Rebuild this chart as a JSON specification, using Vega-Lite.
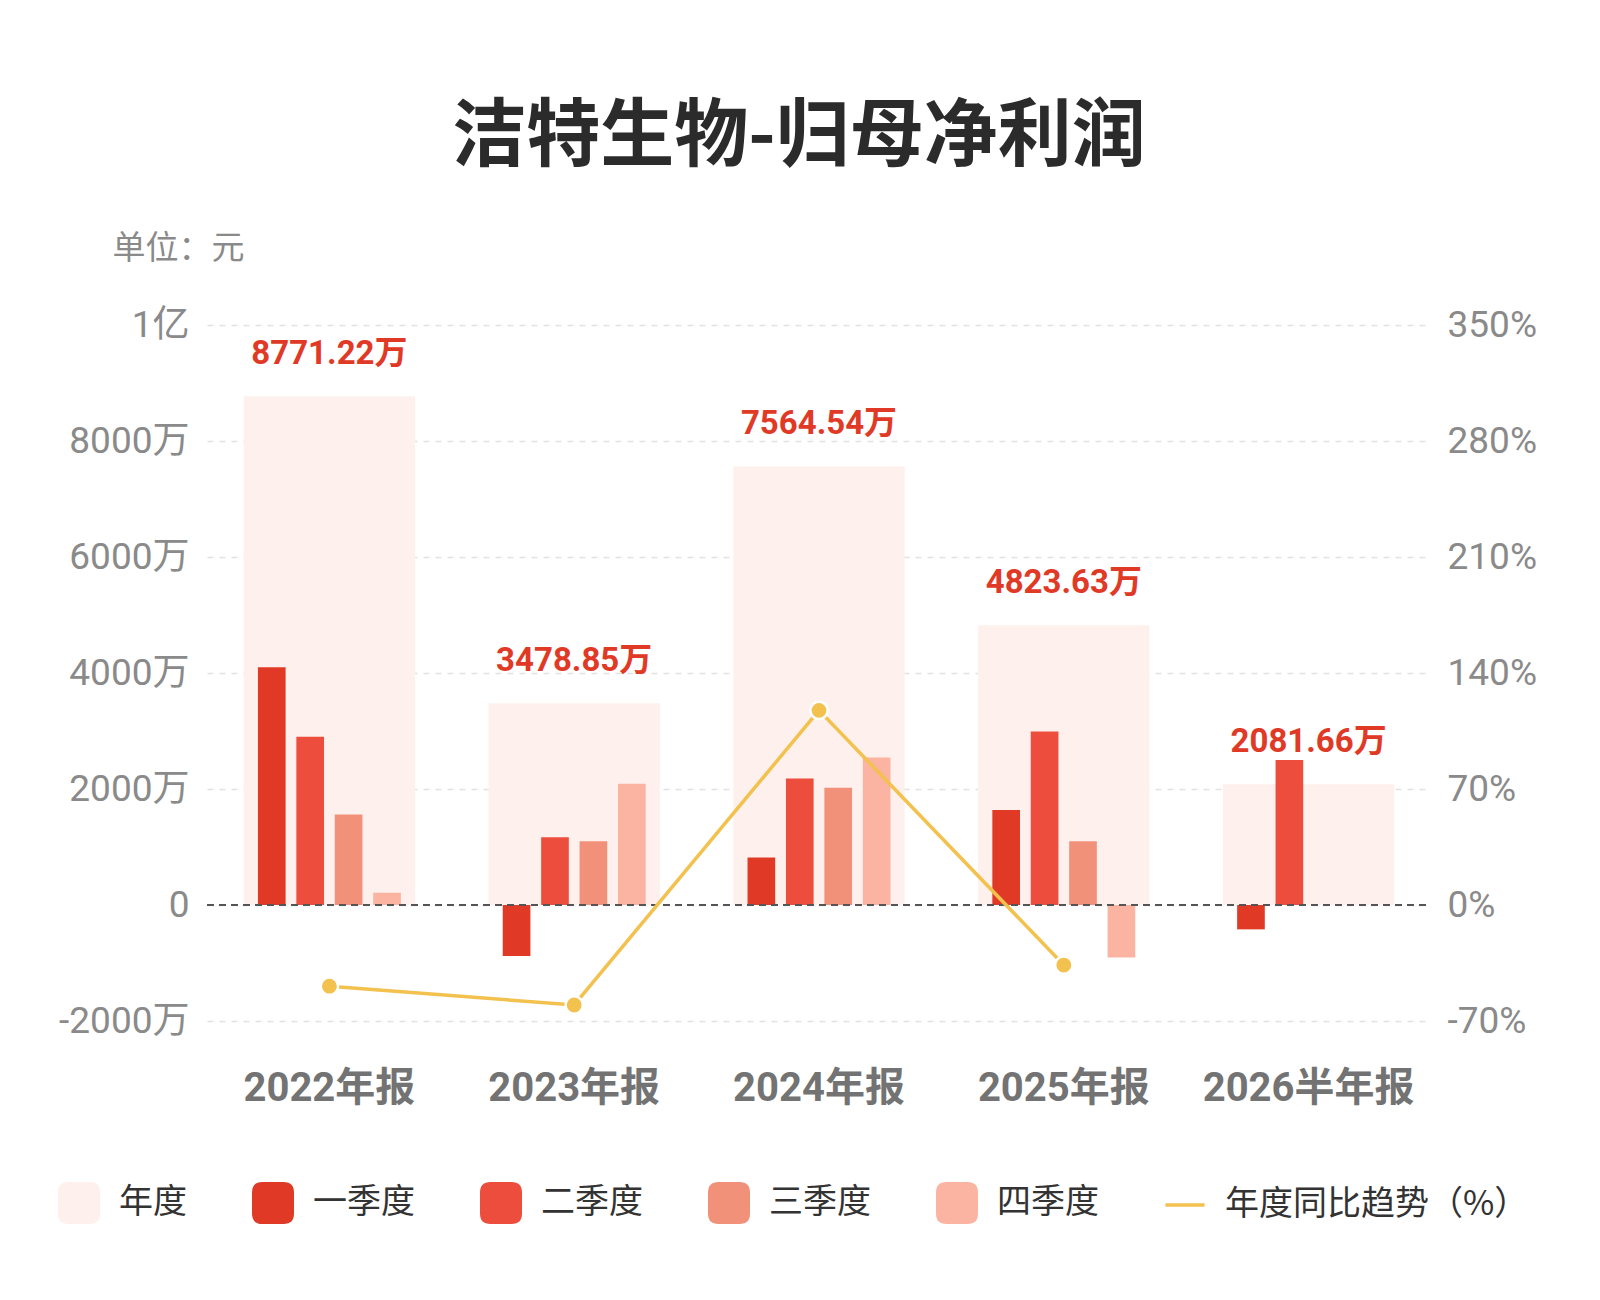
{
  "$schema": "https://vega.github.io/schema/vega-lite/v6.json",
  "width": 1224,
  "height": 696,
  "autosize": {"type": "none"},
  "padding": {"left": 207, "top": 325, "right": 169, "bottom": 279},
  "background": "white",
  "title": {
    "text": "洁特生物-归母净利润",
    "anchor": "middle",
    "dx": -20,
    "offset": 56,
    "font": "'Noto Sans CJK SC', sans-serif",
    "fontSize": 74,
    "fontWeight": "bold",
    "color": "#2b2b2b"
  },
  "datasets": {
    "annual": [
      {"period": "2022年报", "series": "年度", "value": 8771.22},
      {"period": "2023年报", "series": "年度", "value": 3478.85},
      {"period": "2024年报", "series": "年度", "value": 7564.54},
      {"period": "2025年报", "series": "年度", "value": 4823.63},
      {"period": "2026半年报", "series": "年度", "value": 2081.66}
    ],
    "quarters": [
      {"period": "2022年报", "series": "一季度", "value": 4100},
      {"period": "2022年报", "series": "二季度", "value": 2900},
      {"period": "2022年报", "series": "三季度", "value": 1560},
      {"period": "2022年报", "series": "四季度", "value": 211.22},
      {"period": "2023年报", "series": "一季度", "value": -880},
      {"period": "2023年报", "series": "二季度", "value": 1170},
      {"period": "2023年报", "series": "三季度", "value": 1100},
      {"period": "2023年报", "series": "四季度", "value": 2088.85},
      {"period": "2024年报", "series": "一季度", "value": 820},
      {"period": "2024年报", "series": "二季度", "value": 2180},
      {"period": "2024年报", "series": "三季度", "value": 2020},
      {"period": "2024年报", "series": "四季度", "value": 2544.54},
      {"period": "2025年报", "series": "一季度", "value": 1640},
      {"period": "2025年报", "series": "二季度", "value": 2990},
      {"period": "2025年报", "series": "三季度", "value": 1100},
      {"period": "2025年报", "series": "四季度", "value": -906.37},
      {"period": "2026半年报", "series": "一季度", "value": -420},
      {"period": "2026半年报", "series": "二季度", "value": 2501.66}
    ],
    "yoy": [
      {"period": "2022年报", "pct": -49},
      {"period": "2023年报", "pct": -60.34},
      {"period": "2024年报", "pct": 117.45},
      {"period": "2025年报", "pct": -36.23}
    ]
  },
  "encoding": {
    "x": {
      "field": "period",
      "type": "nominal",
      "sort": ["2022年报", "2023年报", "2024年报", "2025年报", "2026半年报"],
      "scale": {"paddingInner": 0.3, "paddingOuter": 0.15},
      "axis": {
        "title": null,
        "domain": false,
        "ticks": false,
        "labelAngle": 0,
        "labelPadding": 47,
        "labelLimit": 500,
        "labelFont": "Roboto, 'Noto Sans CJK SC', sans-serif",
        "labelFontSize": 40,
        "labelFontWeight": "bold",
        "labelColor": "#737373"
      }
    }
  },
  "layer": [
    {
      "layer": [
        {
          "data": {"name": "annual"},
          "mark": {"type": "bar"},
          "encoding": {
            "y": {
              "field": "value",
              "type": "quantitative",
              "scale": {"domain": [-2000, 10000], "nice": false},
              "axis": {
                "title": "单位：元",
                "titleAngle": 0,
                "titleX": -95,
                "titleY": -77,
                "titleAlign": "left",
                "titleBaseline": "middle",
                "titleFont": "'Noto Sans CJK SC', sans-serif",
                "titleFontSize": 33,
                "titleFontWeight": "normal",
                "titleColor": "#8a8a8a",
                "values": [-2000, 0, 2000, 4000, 6000, 8000, 10000],
                "labelExpr": "datum.value == 10000 ? '1亿' : datum.value == 0 ? '0' : datum.value + '万'",
                "domain": false,
                "ticks": false,
                "labelPadding": 18,
                "labelFont": "Roboto, 'Noto Sans CJK SC', sans-serif",
                "labelFontSize": 37,
                "labelColor": "#8a8a8a",
                "gridColor": "#e2e2e2",
                "gridDash": [6, 6],
                "gridWidth": 1.5
              }
            },
            "color": {
              "field": "series",
              "type": "nominal",
              "scale": {
                "domain": ["年度", "一季度", "二季度", "三季度", "四季度", "年度同比趋势（%）"],
                "range": ["#FEF0EC", "#E03A26", "#EC4D3C", "#F2917A", "#FBB3A2", "#F2C14E"]
              },
              "legend": {
                "title": null,
                "orient": "none",
                "direction": "horizontal",
                "legendX": -149,
                "legendY": 857,
                "symbolSize": 1764,
                "symbolStrokeWidth": 0,
                "symbolOpacity": 1,
                "labelFont": "'Noto Sans CJK SC', sans-serif",
                "labelFontSize": 34,
                "labelColor": "#333333",
                "labelOffset": 19,
                "columnPadding": 65,
                "labelLimit": 400,
                "encode": {
                  "symbols": {
                    "update": {
                      "shape": {"signal": "datum.value === '年度同比趋势（%）' ? 'M-0.93,-0.08L0.93,-0.08L0.93,0.08L-0.93,0.08Z' : 'M-0.5,-1L0.5,-1Q1,-1 1,-0.5L1,0.5Q1,1 0.5,1L-0.5,1Q-1,1 -1,0.5L-1,-0.5Q-1,-1 -0.5,-1Z'"}
                    }
                  }
                }
              }
            }
          }
        },
        {
          "data": {"name": "quarters"},
          "mark": {"type": "bar"},
          "encoding": {
            "xOffset": {
              "field": "series",
              "type": "nominal",
              "scale": {"domain": ["一季度", "二季度", "三季度", "四季度"], "paddingInner": 0.28, "paddingOuter": 0.37}
            },
            "y": {"field": "value", "type": "quantitative"},
            "color": {"field": "series", "type": "nominal"}
          }
        },
        {
          "data": {"values": [{}]},
          "mark": {"type": "rule", "color": "#555555", "strokeDash": [7, 5], "strokeWidth": 2},
          "encoding": {"y": {"datum": 0}, "x": {"value": 0}, "x2": {"value": 1224}}
        },
        {
          "data": {"name": "annual"},
          "transform": [{"calculate": "format(datum.value, '.2f') + '万'", "as": "label"}],
          "mark": {
            "type": "text",
            "baseline": "middle",
            "dy": -42,
            "font": "Roboto, 'Noto Sans CJK SC', sans-serif",
            "fontSize": 33,
            "fontWeight": "bold",
            "color": "#E03A26"
          },
          "encoding": {
            "y": {"field": "value", "type": "quantitative"},
            "text": {"field": "label"}
          }
        }
      ]
    },
    {
      "data": {"name": "yoy"},
      "layer": [
        {
          "mark": {"type": "line", "color": "#F2C14E", "strokeWidth": 3.5}
        },
        {
          "mark": {"type": "point", "filled": true, "color": "#F2C14E", "size": 300, "opacity": 1, "stroke": "white", "strokeWidth": 2.5}
        }
      ],
      "encoding": {
        "y": {
          "field": "pct",
          "type": "quantitative",
          "scale": {"domain": [-70, 350], "nice": false},
          "axis": {
            "orient": "right",
            "title": null,
            "grid": false,
            "domain": false,
            "ticks": false,
            "values": [-70, 0, 70, 140, 210, 280, 350],
            "labelExpr": "datum.value + '%'",
            "labelPadding": 16,
            "labelFont": "Roboto, 'Noto Sans CJK SC', sans-serif",
            "labelFontSize": 37,
            "labelColor": "#8a8a8a"
          }
        }
      }
    }
  ],
  "resolve": {"scale": {"y": "independent"}},
  "config": {"view": {"stroke": null}}
}
